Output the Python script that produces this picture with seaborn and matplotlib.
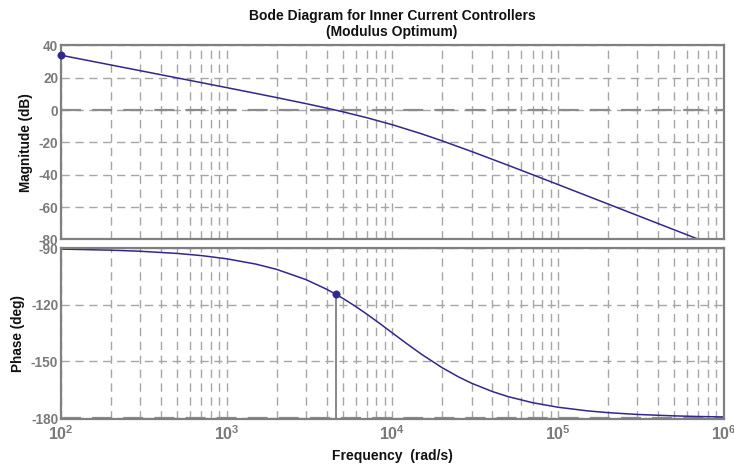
import numpy as np
import pandas as pd
import matplotlib
matplotlib.use("Agg")
import matplotlib.pyplot as plt
import seaborn as sns
from matplotlib.ticker import FixedLocator, NullFormatter, FuncFormatter

# Open-loop frequency response of the inner current loop
freq_mag = [100, 150, 200, 300, 500, 700, 1000, 1500, 2000, 3000, 4000, 4550,
            5000, 7000, 10000, 15000, 20000, 30000, 50000, 70000, 100000,
            200000, 300000, 500000, 700000, 720000]
magnitude_db = [33.98, 30.46, 27.96, 24.44, 19.99, 17.06, 13.94, 10.36, 7.79,
                4.06, 1.29, 0.00, -0.97, -4.66, -9.03, -14.66, -19.03, -25.56,
                -34.15, -39.91, -46.06, -58.07, -65.11, -73.98, -79.82, -80.32]

freq_phase = [100, 200, 300, 500, 700, 1000, 1500, 2000, 3000, 4000, 4550,
              5000, 6000, 7000, 8500, 10000, 12000, 15000, 20000, 25000, 30000,
              40000, 50000, 70000, 100000, 150000, 200000, 300000, 500000,
              700000, 1000000]
phase_deg = [-90.57, -91.15, -91.72, -92.86, -94.00, -95.71, -98.53, -101.31,
             -106.70, -111.80, -114.47, -116.57, -120.96, -124.99, -130.36,
             -135.00, -140.19, -146.31, -153.43, -158.20, -161.57, -165.96,
             -168.69, -171.87, -174.29, -176.19, -177.14, -178.09, -178.85,
             -179.18, -179.43]

# Highlighted points: low-frequency gain and phase at gain crossover
gain_point = (100, 33.98)
crossover_point = (4550, -114.47)

mag_ticks = [40, 20, 0, -20, -40, -60, -80]
phase_ticks = [-90, -120, -150, -180]

line_color = "#30288c"
grid_color = "#a6a6a6"
frame_color = "#808080"
tick_color = "#7a7a7a"

sns.set_theme(style="white")
plt.rcParams["font.family"] = ["Liberation Sans", "DejaVu Sans"]
plt.rcParams["axes.unicode_minus"] = False
plt.rcParams["mathtext.fontset"] = "custom"
plt.rcParams["mathtext.rm"] = "Liberation Sans:bold"
plt.rcParams["mathtext.bf"] = "Liberation Sans:bold"
plt.rcParams["mathtext.default"] = "rm"

fig = plt.figure(figsize=(7.34, 4.65), dpi=100)
W, H = 734, 465
left, right = 61 / W, 724 / W
ax_mag = fig.add_axes([left, 1 - 239.5 / H, right - left, (239.5 - 45.5) / H])
ax_ph = fig.add_axes([left, 1 - 419 / H, right - left, (419 - 248) / H])

df_mag = pd.DataFrame({"freq": freq_mag, "mag": magnitude_db})
df_ph = pd.DataFrame({"freq": freq_phase, "phase": phase_deg})

minor_x = [m * 10 ** e for e in range(2, 6) for m in range(2, 10)]
major_x = [10 ** e for e in range(2, 7)]

for ax in (ax_mag, ax_ph):
    ax.set_xscale("log")
    ax.set_xlim(1e2, 1e6)
    ax.xaxis.set_major_locator(FixedLocator(major_x))
    ax.xaxis.set_minor_locator(FixedLocator(minor_x))
    ax.xaxis.set_minor_formatter(NullFormatter())
    ax.grid(True, which="both", axis="x", color=grid_color, lw=1.0,
            linestyle=(0, (6, 4)))
    ax.grid(True, which="major", axis="y", color=grid_color, lw=1.0,
            linestyle=(0, (6, 4)))
    ax.set_axisbelow(True)
    for sp in ax.spines.values():
        sp.set_color(frame_color)
        sp.set_linewidth(1.6)
    ax.tick_params(axis="both", which="both", length=0, pad=2,
                   labelsize=9.8, labelcolor=tick_color)

# Magnitude panel
sns.lineplot(data=df_mag, x="freq", y="mag", ax=ax_mag, color=line_color,
             lw=1.1, estimator=None, sort=False)
ax_mag.axhline(0, color="#8c8c8c", lw=1.6, linestyle=(0, (9, 5)), zorder=1.5)
sns.scatterplot(x=[gain_point[0]], y=[gain_point[1]], ax=ax_mag,
                color=line_color, s=28, edgecolor=line_color, zorder=5,
                clip_on=False)
ax_mag.set_ylim(-80, 40)
ax_mag.set_yticks(mag_ticks)
ax_mag.xaxis.set_major_formatter(NullFormatter())
ax_mag.set_xlabel("")
ax_mag.set_ylabel("Magnitude (dB)", fontsize=9.8, fontweight="bold",
                  color="#111111", labelpad=4)

# Phase panel
sns.lineplot(data=df_ph, x="freq", y="phase", ax=ax_ph, color=line_color,
             lw=1.1, estimator=None, sort=False)
ax_ph.axhline(-180, color="#8c8c8c", lw=1.6, linestyle=(0, (9, 5)), zorder=1.5)
ax_ph.axhline(-90, color="#9a9a9a", lw=1.6, linestyle=(0, (9, 5)), zorder=1.5)
ax_ph.plot([crossover_point[0], crossover_point[0]],
           [crossover_point[1], -180], color="#7f7f7f", lw=1.3, zorder=3)
sns.scatterplot(x=[crossover_point[0]], y=[crossover_point[1]], ax=ax_ph,
                color=line_color, s=28, edgecolor=line_color, zorder=5)
ax_ph.set_ylim(-180.5, -90)
ax_ph.set_yticks(phase_ticks)
ax_ph.xaxis.set_major_formatter(
    FuncFormatter(lambda v, p: r"$\mathregular{10^{%d}}$" % round(np.log10(v))))
ax_ph.tick_params(axis="x", labelsize=11.5, pad=4)
ax_ph.set_xlabel("Frequency  (rad/s)", fontsize=10, fontweight="bold",
                 color="#111111", labelpad=4)
ax_ph.set_ylabel("Phase (deg)", fontsize=9.8, fontweight="bold",
                 color="#111111", labelpad=4)

for ax in (ax_mag, ax_ph):
    for lbl in ax.get_yticklabels() + ax.get_xticklabels():
        lbl.set_fontweight("bold")

fig.text(392 / W, 1 - 24 / H,
         "Bode Diagram for Inner Current Controllers\n(Modulus Optimum)",
         ha="center", va="center", fontsize=10, fontweight="bold",
         color="#111111", linespacing=1.25)

fig.savefig("out.png", dpi=100)
